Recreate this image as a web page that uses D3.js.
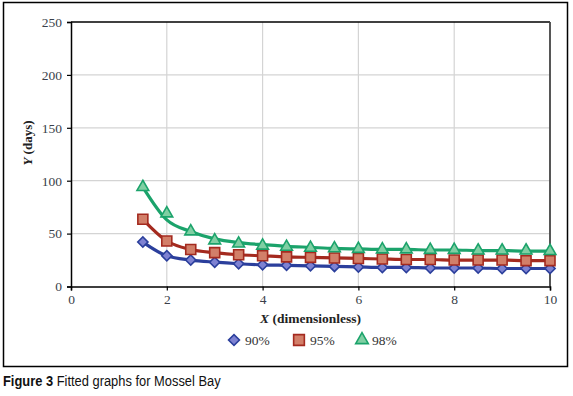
<!DOCTYPE html>
<html>
<head>
<meta charset="utf-8">
<script src="https://cdn.jsdelivr.net/npm/d3@7"></script>
<style>
  body { margin: 0; background: #fff; }
</style>
</head>
<body>
<div id="chart"></div>
<script>
// x positions (dimensionless)
const xValues = [1.5, 2, 2.5, 3, 3.5, 4, 4.5, 5, 5.5, 6, 6.5, 7, 7.5, 8, 8.5, 9, 9.5, 10];
// Y (days)
const p90 = [42, 29, 25, 23, 21.5, 20.5, 20, 19.5, 19, 18.5, 18, 18, 17.5, 17.5, 17.5, 17, 17, 17];
const p95 = [63.5, 43, 35, 32, 30, 29, 28, 27.5, 27, 26.5, 26, 25.5, 25.5, 25, 25, 25, 24.5, 24.5];
const p98 = [94, 69, 52, 43.5, 40.5, 38.5, 37.5, 36.5, 36, 35.5, 35, 35, 34.5, 34.5, 34, 34, 34, 33.5];
// fitted curve for 98% (drawn as the line)
const fit98 = [94, 63, 52, 45, 41.5, 39.5, 38, 37, 36, 35.5, 35, 35, 34.5, 34.5, 34, 34, 33.5, 33.5];
const xTicks = [0, 2, 4, 6, 8, 10];
const yTicks = [0, 50, 100, 150, 200, 250];

const serif = "Liberation Serif, DejaVu Serif, serif";

const series = [
  {name: "90%", pts: p90, line: p90, stroke: "#2b3f9c", fill: "#7e82d2", sym: d3.symbolSquare, size: 52, rot: 45},
  {name: "95%", pts: p95, line: p95, stroke: "#a42a1f", fill: "#d27f69", sym: d3.symbolSquare, size: 100, rot: 0},
  {name: "98%", pts: p98, line: fit98, stroke: "#1ba36b", fill: "#80cfa3", sym: d3.symbolTriangle, size: 60, rot: 0}
];

const width = 573, height = 396;
const plotL = 71, plotR = 550, plotT = 22, plotB = 286.5;

const svg = d3.select("#chart").append("svg")
  .attr("width", width).attr("height", height);

// outer frame
svg.append("rect").attr("x", 3.5).attr("y", 2.5).attr("width", 564).attr("height", 364)
  .attr("fill", "none").attr("stroke", "#000").attr("stroke-width", 1.5);

const x = d3.scaleLinear().domain([0, 10]).range([plotL, plotR]);
const y = d3.scaleLinear().domain([0, 250]).range([plotB, plotT]);

// grid
svg.append("g").selectAll("line").data(xTicks.filter(d => d > 0 && d < 10)).enter().append("line")
  .attr("x1", d => x(d)).attr("x2", d => x(d)).attr("y1", plotT).attr("y2", plotB)
  .attr("stroke", "#d4d4d4").attr("stroke-width", 1.2);
svg.append("g").selectAll("line").data(yTicks.filter(d => d > 0 && d < 250)).enter().append("line")
  .attr("x1", plotL).attr("x2", plotR).attr("y1", d => y(d)).attr("y2", d => y(d))
  .attr("stroke", "#d4d4d4").attr("stroke-width", 1.2);

// top and right border
svg.append("line").attr("x1", plotL).attr("x2", plotR).attr("y1", plotT).attr("y2", plotT)
  .attr("stroke", "#000").attr("stroke-width", 1.5);
svg.append("line").attr("x1", plotR).attr("x2", plotR).attr("y1", plotT).attr("y2", plotB)
  .attr("stroke", "#444").attr("stroke-width", 1.8);

// axes
const xAxis = svg.append("g").attr("transform", `translate(0,${plotB})`)
  .call(d3.axisBottom(x).tickValues(xTicks).tickSize(4).tickPadding(4));
const yAxis = svg.append("g").attr("transform", `translate(${plotL},0)`)
  .call(d3.axisLeft(y).tickValues(yTicks).tickSize(4).tickPadding(5));
[xAxis, yAxis].forEach(a => {
  a.attr("font-family", serif).attr("font-size", 13.5);
  a.select(".domain").attr("stroke", "#000").attr("stroke-width", 1.5);
  a.selectAll(".tick line").attr("stroke", "#000").attr("stroke-width", 1.2);
  a.selectAll(".tick text").attr("fill", "#3a3f4a");
});

// lines and markers
series.forEach(s => {
  const lineGen = d3.line().x((d, i) => x(xValues[i])).y(d => y(d)).curve(d3.curveMonotoneX);
  svg.append("path").datum(s.line).attr("d", lineGen)
    .attr("fill", "none").attr("stroke", s.stroke).attr("stroke-width", 3.2);
});
series.forEach(s => {
  svg.append("g").selectAll("path").data(s.pts).enter().append("path")
    .attr("d", d3.symbol().type(s.sym).size(s.size))
    .attr("transform", (d, i) => `translate(${x(xValues[i])},${y(d)}) rotate(${s.rot})`)
    .attr("fill", s.fill).attr("stroke", s.stroke).attr("stroke-width", 1.6);
});

// axis titles
const yTitle = svg.append("text")
  .attr("transform", "translate(32,143) rotate(-90)")
  .attr("text-anchor", "middle")
  .attr("font-family", serif)
  .attr("font-size", 13).attr("font-weight", "bold").attr("fill", "#222");
yTitle.append("tspan").attr("font-style", "italic").text("Y");
yTitle.append("tspan").text(" (days)");

const xTitle = svg.append("text")
  .attr("x", (plotL + plotR) / 2).attr("y", 323)
  .attr("text-anchor", "middle")
  .attr("font-family", serif)
  .attr("font-size", 13.5).attr("font-weight", "bold").attr("fill", "#222");
xTitle.append("tspan").attr("font-style", "italic").text("X");
xTitle.append("tspan").text(" (dimensionless)");

// legend
const legendX = [234, 299, 362];
series.forEach((s, i) => {
  const g = svg.append("g").attr("transform", `translate(${legendX[i]},340)`);
  g.append("path").attr("d", d3.symbol().type(s.sym).size(s.size * 1.15))
    .attr("transform", `rotate(${s.rot})`)
    .attr("fill", s.fill).attr("stroke", s.stroke).attr("stroke-width", 1.6);
  g.append("text").attr("x", i === 2 ? 10 : 11).attr("y", 4.5)
    .attr("font-family", serif)
    .attr("font-size", 13.5).attr("fill", "#333").text(s.name);
});

// caption (condensed sans)
const cap = svg.append("text").attr("transform", "translate(3,386) scale(0.86,1)")
  .attr("font-family", "Liberation Sans, Arial, sans-serif")
  .attr("font-size", 15).attr("fill", "#111");
cap.append("tspan").attr("font-weight", "bold").text("Figure 3");
cap.append("tspan").text(" Fitted graphs for Mossel Bay");
</script>
</body>
</html>
